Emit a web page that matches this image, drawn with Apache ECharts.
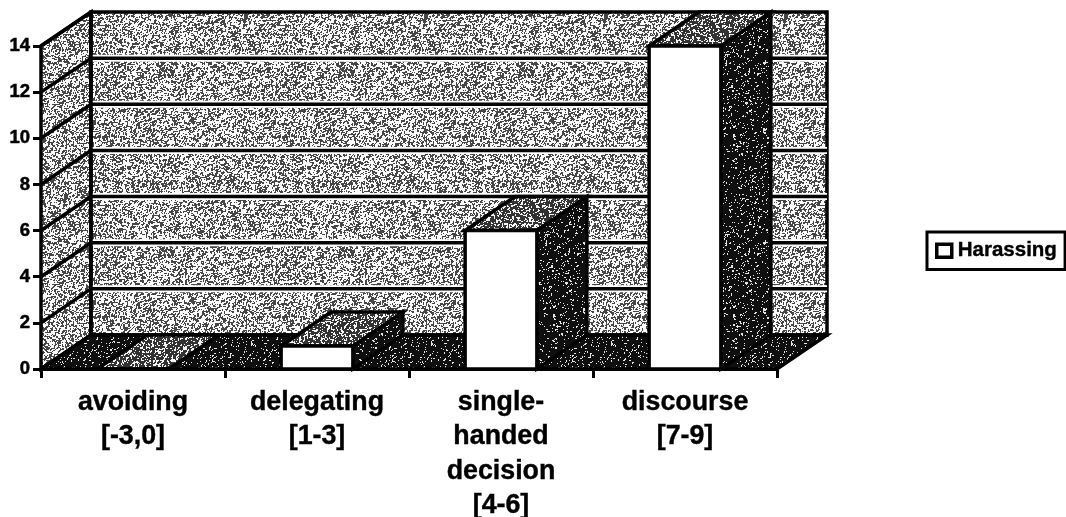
<!DOCTYPE html>
<html>
<head>
<meta charset="utf-8">
<style>html,body{margin:0;padding:0;background:#fff}#c{width:1066px;height:517px}</style>
<script src="https://cdn.jsdelivr.net/npm/echarts@6/dist/echarts.min.js"></script>
</head>
<body>
<div id="c"></div>
<script>
var categories = ['avoiding\n[-3,0]', 'delegating\n[1-3]', 'single-\nhanded\ndecision\n[4-6]', 'discourse\n[7-9]'];
var harassing = [0, 1, 6, 14];
var yTicks = [0, 2, 4, 6, 8, 10, 12, 14];

var DX = 50, DY = 34, BAR_RATIO = 0.39, LINE = 3.5;

// Deterministic speckle texture for the scanned-print look (decoration only)
function texture(darkShare, lo, hi) {
  var n = 180, cv = document.createElement('canvas');
  cv.width = cv.height = n;
  var ctx = cv.getContext('2d'), img = ctx.createImageData(n, n), raw = [], soft = [], x, y;
  for (y = 0; y < n; y++) for (x = 0; x < n; x++) {
    var s = Math.sin(x * 12.9898 + y * 78.233 + darkShare * 9) * 43758.5453;
    raw.push(s - Math.floor(s));
  }
  function at(a, b) { return raw[((b + n) % n) * n + ((a + n) % n)]; }
  for (y = 0; y < n; y++) for (x = 0; x < n; x++) {
    soft.push(at(x, y) * 2 + at(x + 1, y) + at(x, y + 1));
  }
  var cut = soft.slice().sort(function (a, b) { return a - b; })[Math.floor(soft.length * darkShare)];
  for (var i = 0; i < soft.length; i++) {
    var v = soft[i] < cut ? lo : hi;
    img.data[i * 4] = img.data[i * 4 + 1] = img.data[i * 4 + 2] = v;
    img.data[i * 4 + 3] = 255;
  }
  ctx.putImageData(img, 0, 0);
  return { image: cv, repeat: 'repeat' };
}
var wallFill = texture(0.44, 70, 250), topFill = texture(0.68, 50, 245), sideFill = texture(0.9, 15, 230);

function poly(points, fill, z) {
  return { type: 'polygon', shape: { points: points }, z2: z || 0,
    style: { fill: fill, stroke: '#000', lineWidth: LINE, lineJoin: 'miter' } };
}
function seg(a, b, color, width) {
  return { type: 'line', shape: { x1: a[0], y1: a[1], x2: b[0], y2: b[1] },
    style: { stroke: color || '#000', lineWidth: width || LINE } };
}

function renderWalls(params, api) {
  var g = params.coordSys, L = g.x, R = g.x + g.width;
  var y0 = api.coord([0, 0])[1], yT = api.coord([0, yTicks[yTicks.length - 1]])[1];
  var kids = [
    poly([[L, yT], [L + DX, yT - DY], [L + DX, y0 - DY], [L, y0]], wallFill),
    poly([[L + DX, yT - DY], [R + DX, yT - DY], [R + DX, y0 - DY], [L + DX, y0 - DY]], wallFill)
  ];
  yTicks.forEach(function (v) {
    var y = api.coord([0, v])[1];
    if (v > 0 && v < yTicks[yTicks.length - 1]) {
      kids.push(seg([L + DX, y - DY], [R + DX, y - DY], '#fff', 7));
      kids.push(seg([L + DX, y - DY], [R + DX, y - DY]));
    }
    if (v > 0) kids.push(seg([L, y], [L + DX, y - DY]));
  });
  kids.push(poly([[L, y0], [L + DX, y0 - DY], [R + DX, y0 - DY], [R, y0]], sideFill));
  kids.push(seg([L + DX, yT - DY], [L + DX, y0 - DY]));
  return { type: 'group', children: kids };
}

function renderBar(params, api) {
  var i = api.value(0), val = api.value(1);
  var c = api.coord([i, val]), b = api.coord([i, 0]);
  var w = api.size([1, 0])[0] * BAR_RATIO;
  var l = c[0] - w / 2, r = c[0] + w / 2, t = c[1], f = b[1];
  return { type: 'group', children: [
    poly([[r, t], [r + DX, t - DY], [r + DX, f - DY], [r, f]], sideFill),
    poly([[l, t], [l + DX, t - DY], [r + DX, t - DY], [r, t]], topFill),
    poly([[l, t], [r, t], [r, f], [l, f]], '#fff')
  ] };
}

var chart = echarts.init(document.getElementById('c'));
chart.setOption({
  animation: false,
  backgroundColor: '#fff',
  grid: { left: 41, top: 46, width: 736, height: 323, outerBoundsMode: 'none' },
  legend: {
    left: 927, top: 232, orient: 'horizontal', selectedMode: false,
    backgroundColor: '#fff', borderColor: '#000', borderWidth: 3, borderRadius: 0,
    padding: [8, 8, 8, 8], itemWidth: 15, itemHeight: 13, itemGap: 0,
    textStyle: { fontFamily: 'Liberation Sans', fontWeight: 'bold', fontSize: 20.5, color: '#000', padding: [0, 0, 0, 1], textBorderColor: '#000', textBorderWidth: 0.4 },
    data: [{ name: 'Harassing', icon: 'rect', itemStyle: { color: '#fff', borderColor: '#000', borderWidth: 3.5 } }]
  },
  xAxis: {
    type: 'category', data: categories,
    axisLine: { lineStyle: { color: '#000', width: 3 } },
    axisTick: { show: true, length: 9, lineStyle: { color: '#000', width: 3 } },
    axisLabel: { interval: 0, margin: 16, color: '#000', fontFamily: 'Liberation Sans', fontWeight: 'bold', fontSize: 26.8, lineHeight: 34.5, textBorderColor: '#000', textBorderWidth: 0.4 }
  },
  yAxis: {
    type: 'value', min: 0, max: 14, interval: 2,
    splitLine: { show: false },
    axisLine: { show: true, lineStyle: { color: '#000', width: 3 } },
    axisTick: { show: true, length: 8, lineStyle: { color: '#000', width: 3 } },
    axisLabel: { margin: 11, color: '#000', fontFamily: 'Liberation Sans', fontWeight: 'bold', fontSize: 18.5, textBorderColor: '#000', textBorderWidth: 0.5 }
  },
  series: [
    { type: 'custom', name: 'walls', coordinateSystem: 'cartesian2d', clip: false, silent: true, z: 1,
      renderItem: renderWalls, data: [[0, 0]], encode: { x: 0, y: 1 } },
    { type: 'custom', name: 'Harassing', coordinateSystem: 'cartesian2d', clip: false, z: 2,
      itemStyle: { color: '#fff', borderColor: '#000', borderWidth: 3 },
      renderItem: renderBar,
      data: harassing.map(function (v, i) { return [i, v]; }), encode: { x: 0, y: 1 } }
  ]
});
</script>
</body>
</html>
